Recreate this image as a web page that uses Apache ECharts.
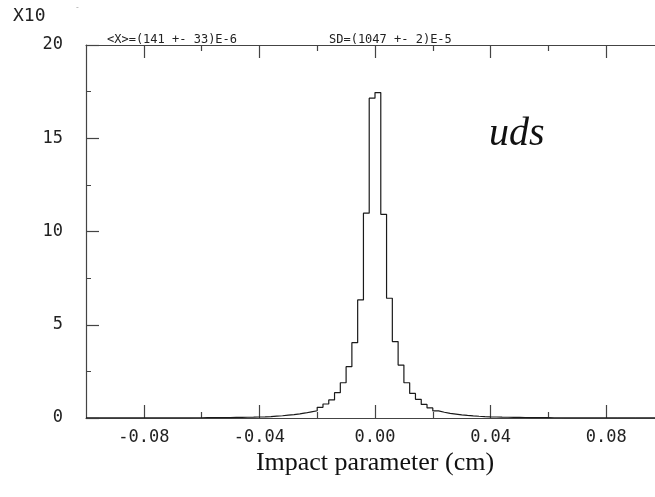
<!DOCTYPE html>
<html>
<head>
<meta charset="utf-8">
<script src="https://cdn.jsdelivr.net/npm/echarts@6/dist/echarts.min.js"></script>
<style>
  html, body { margin: 0; padding: 0; background: #fff; }
  #chart { width: 655px; height: 497px; }
</style>
</head>
<body>
<div id="chart"></div>
<script>
// histogram: 100 bins of 0.002 cm from -0.1 to 0.1, values in units of the X10 scale
var binStart = -0.1;
var binWidth = 0.002;
var counts = [
  0.004, 0.004, 0.004, 0.005, 0.005, 0.005, 0.006, 0.006, 0.006, 0.007,
  0.007, 0.008, 0.008, 0.009, 0.009, 0.010, 0.011, 0.012, 0.013, 0.014,
  0.016, 0.018, 0.019, 0.022, 0.025, 0.029, 0.034, 0.039, 0.045, 0.053,
  0.063, 0.075, 0.10, 0.12, 0.15, 0.18, 0.22, 0.27, 0.33, 0.39,
  0.57, 0.75, 0.97, 1.36, 1.89, 2.75, 4.04, 6.33, 10.98, 17.15,
  17.45, 10.92, 6.42, 4.10, 2.84, 1.89, 1.32, 1.00, 0.73, 0.54,
  0.38, 0.31, 0.25, 0.21, 0.17, 0.14, 0.115, 0.095, 0.078, 0.064,
  0.054, 0.046, 0.040, 0.034, 0.030, 0.026, 0.023, 0.020, 0.018, 0.016,
  0.014, 0.013, 0.012, 0.011, 0.010, 0.009, 0.009, 0.008, 0.008, 0.007,
  0.007, 0.006, 0.006, 0.006, 0.005, 0.005, 0.005, 0.004, 0.004, 0.004
];
var xMajor = [-0.08, -0.04, 0, 0.04, 0.08];
var xMinor = [-0.06, -0.02, 0.02, 0.06];
var statsMean = '<X>=(141 +- 33)E-6';
var statsSD = 'SD=(1047 +- 2)E-5';
var scaleLabel = 'X10';
var sampleLabel = 'uds';
var xTitle = 'Impact parameter (cm)';

var stepData = counts.map(function (v, i) {
  return [+(binStart + i * binWidth).toFixed(3), v];
});
stepData.push([binStart + counts.length * binWidth, counts[counts.length - 1]]);

var axisColor = '#444';
var monoFont = '"DejaVu Sans Mono", monospace';

function xAxisDef(pos, ticks, len, showLine, showLabel) {
  return {
    type: 'value',
    position: pos,
    min: -0.1,
    max: 0.1,
    axisLine: { show: showLine, onZero: false, lineStyle: { color: axisColor, width: 1.2 } },
    axisTick: { inside: true, length: len, customValues: ticks, lineStyle: { color: axisColor, width: 1.2 } },
    axisLabel: {
      show: showLabel,
      customValues: ticks,
      margin: 11,
      color: '#222',
      fontFamily: monoFont,
      fontSize: 17,
      formatter: function (v) { return v.toFixed(2); }
    },
    splitLine: { show: false }
  };
}

var chart = echarts.init(document.getElementById('chart'));
chart.setOption({
  backgroundColor: '#fff',
  animation: false,
  // right edge of the frame (x = 0.1) falls just outside the picture
  grid: { left: 86, top: 45, width: 578, bottom: 79, containLabel: false, outerBoundsMode: 'none' },
  xAxis: [
    xAxisDef('bottom', xMajor, 13, true, true),
    xAxisDef('bottom', xMinor, 6, false, false),
    xAxisDef('top', xMajor, 13, true, false),
    xAxisDef('top', xMinor, 6, false, false)
  ],
  yAxis: {
    type: 'value',
    min: 0,
    max: 20,
    interval: 5,
    axisLine: { show: true, onZero: false, lineStyle: { color: axisColor, width: 1.2 } },
    axisTick: { inside: true, length: 13, lineStyle: { color: axisColor, width: 1.2 } },
    minorTick: { show: true, splitNumber: 2, length: 5, lineStyle: { color: axisColor } },
    axisLabel: { margin: 23, color: '#222', fontFamily: monoFont, fontSize: 17 },
    splitLine: { show: false }
  },
  series: [{
    type: 'line',
    xAxisIndex: 0,
    step: 'end',
    showSymbol: false,
    data: stepData,
    lineStyle: { color: '#1a1a1a', width: 1.2 }
  }],
  graphic: [
    { type: 'text', left: 13, top: 7, style: { text: scaleLabel, fill: '#222', font: '18px ' + monoFont } },
    { type: 'text', left: 75, top: 4, style: { text: '-', fill: '#aaa', font: '8px ' + monoFont } },
    { type: 'text', left: 107, top: 34, style: { text: statsMean, fill: '#222', font: '12px ' + monoFont } },
    { type: 'text', left: 329, top: 34, style: { text: statsSD, fill: '#222', font: '12px ' + monoFont } },
    { type: 'text', left: 489, top: 114, style: { text: sampleLabel, fill: '#111', font: 'italic 40px "Liberation Serif", serif' } },
    { type: 'text', x: 375, y: 463, style: { text: xTitle, fill: '#111', font: '26px "Liberation Serif", serif', align: 'center', verticalAlign: 'middle' } }
  ]
});
</script>
</body>
</html>
